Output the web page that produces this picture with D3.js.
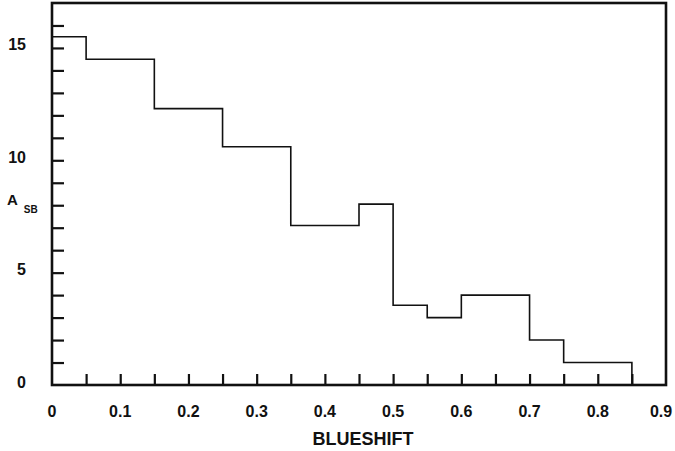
<!DOCTYPE html>
<html>
<head>
<meta charset="utf-8">
<script src="https://cdn.jsdelivr.net/npm/d3@7"></script>
<style>
  body { margin: 0; background: white; }
  text { font-family: "Liberation Sans", Arial, Helvetica, sans-serif; font-weight: bold; fill: #111; }
</style>
</head>
<body>
<div id="chart"></div>
<script>
// histogram bins (left edge, right edge) and heights
var binStart = [0, 0.05, 0.15, 0.25, 0.35, 0.45, 0.5, 0.55, 0.6, 0.7, 0.75];
var binEnd   = [0.05, 0.15, 0.25, 0.35, 0.45, 0.5, 0.55, 0.6, 0.7, 0.75, 0.85];
var asbValues = [15.5, 14.5, 12.3, 10.6, 7.1, 8.05, 3.55, 3.0, 4.0, 2.0, 1.0];

var xTickLabels = [0, 0.1, 0.2, 0.3, 0.4, 0.5, 0.6, 0.7, 0.8, 0.9];
var yTickLabels = [0, 5, 10, 15];

var width = 675, height = 451;
var margin = {top: 3, right: 9, bottom: 66, left: 52};

var svg = d3.select("#chart")
  .append("svg")
    .attr("width", width)
    .attr("height", height)
    .style("background", "white");

var x = d3.scaleLinear()
  .domain([0, 0.9])
  .range([margin.left, width - margin.right]);

var y = d3.scaleLinear()
  .domain([0, 17])
  .range([height - margin.bottom, margin.top]);

// minor ticks every 0.05 on x, every 1 on y, pointing inward
var xTicks = d3.range(1, 18).map(function(i){ return i * 0.05; });
var yTicks = d3.range(1, 17);

svg.append("g")
  .attr("transform", "translate(0," + y(0) + ")")
  .call(d3.axisBottom(x).tickValues(xTicks).tickSize(-11).tickFormat(""))
  .call(function(g){
    g.select(".domain").remove();
    g.selectAll("line").attr("stroke", "#111").attr("stroke-width", 2.2);
  });

svg.append("g")
  .attr("transform", "translate(" + x(0) + ",0)")
  .call(d3.axisLeft(y).tickValues(yTicks).tickSize(-12).tickFormat(""))
  .call(function(g){
    g.select(".domain").remove();
    g.selectAll("line").attr("stroke", "#111").attr("stroke-width", 2.2);
  });

// frame
svg.append("rect")
  .attr("x", x(0))
  .attr("y", y(17))
  .attr("width", x(0.9) - x(0))
  .attr("height", y(0) - y(17))
  .attr("fill", "none")
  .attr("stroke", "#111")
  .attr("stroke-width", 2.6);

// step outline of the histogram
var pts = [];
binStart.forEach(function(s, i){
  pts.push([s, asbValues[i]]);
  pts.push([binEnd[i], asbValues[i]]);
});
pts.push([binEnd[binEnd.length - 1], 0]);

svg.append("path")
  .datum(pts)
  .attr("fill", "none")
  .attr("stroke", "#111")
  .attr("stroke-width", 1.6)
  .attr("d", d3.line()
    .x(function(d){ return x(d[0]); })
    .y(function(d){ return y(d[1]); }));

// tick labels (last one pulled in a bit so it stays on the page)
svg.append("g").selectAll("text")
  .data(xTickLabels)
  .enter()
  .append("text")
    .attr("x", function(d){ return x(d); })
    .attr("dx", function(d){ return d === 0.9 ? -5 : 0; })
    .attr("y", y(0) + 32)
    .attr("text-anchor", "middle")
    .style("font-size", "16px")
    .text(function(d){ return d; });

svg.append("g").selectAll("text")
  .data(yTickLabels)
  .enter()
  .append("text")
    .attr("x", 26)
    .attr("y", function(d){ return y(d) + 2.5; })
    .attr("text-anchor", "end")
    .style("font-size", "16px")
    .text(function(d){ return d; });

// axis titles
svg.append("text")
  .attr("x", 363)
  .attr("y", 445)
  .attr("text-anchor", "middle")
  .style("font-size", "18px")
  .text("BLUESHIFT");

var yTitle = svg.append("text")
  .attr("x", 7)
  .attr("y", 205)
  .style("font-size", "15px");
yTitle.append("tspan").text("A");
yTitle.append("tspan")
  .attr("dx", 6)
  .attr("dy", 8)
  .style("font-size", "10px")
  .text("SB");
</script>
</body>
</html>
